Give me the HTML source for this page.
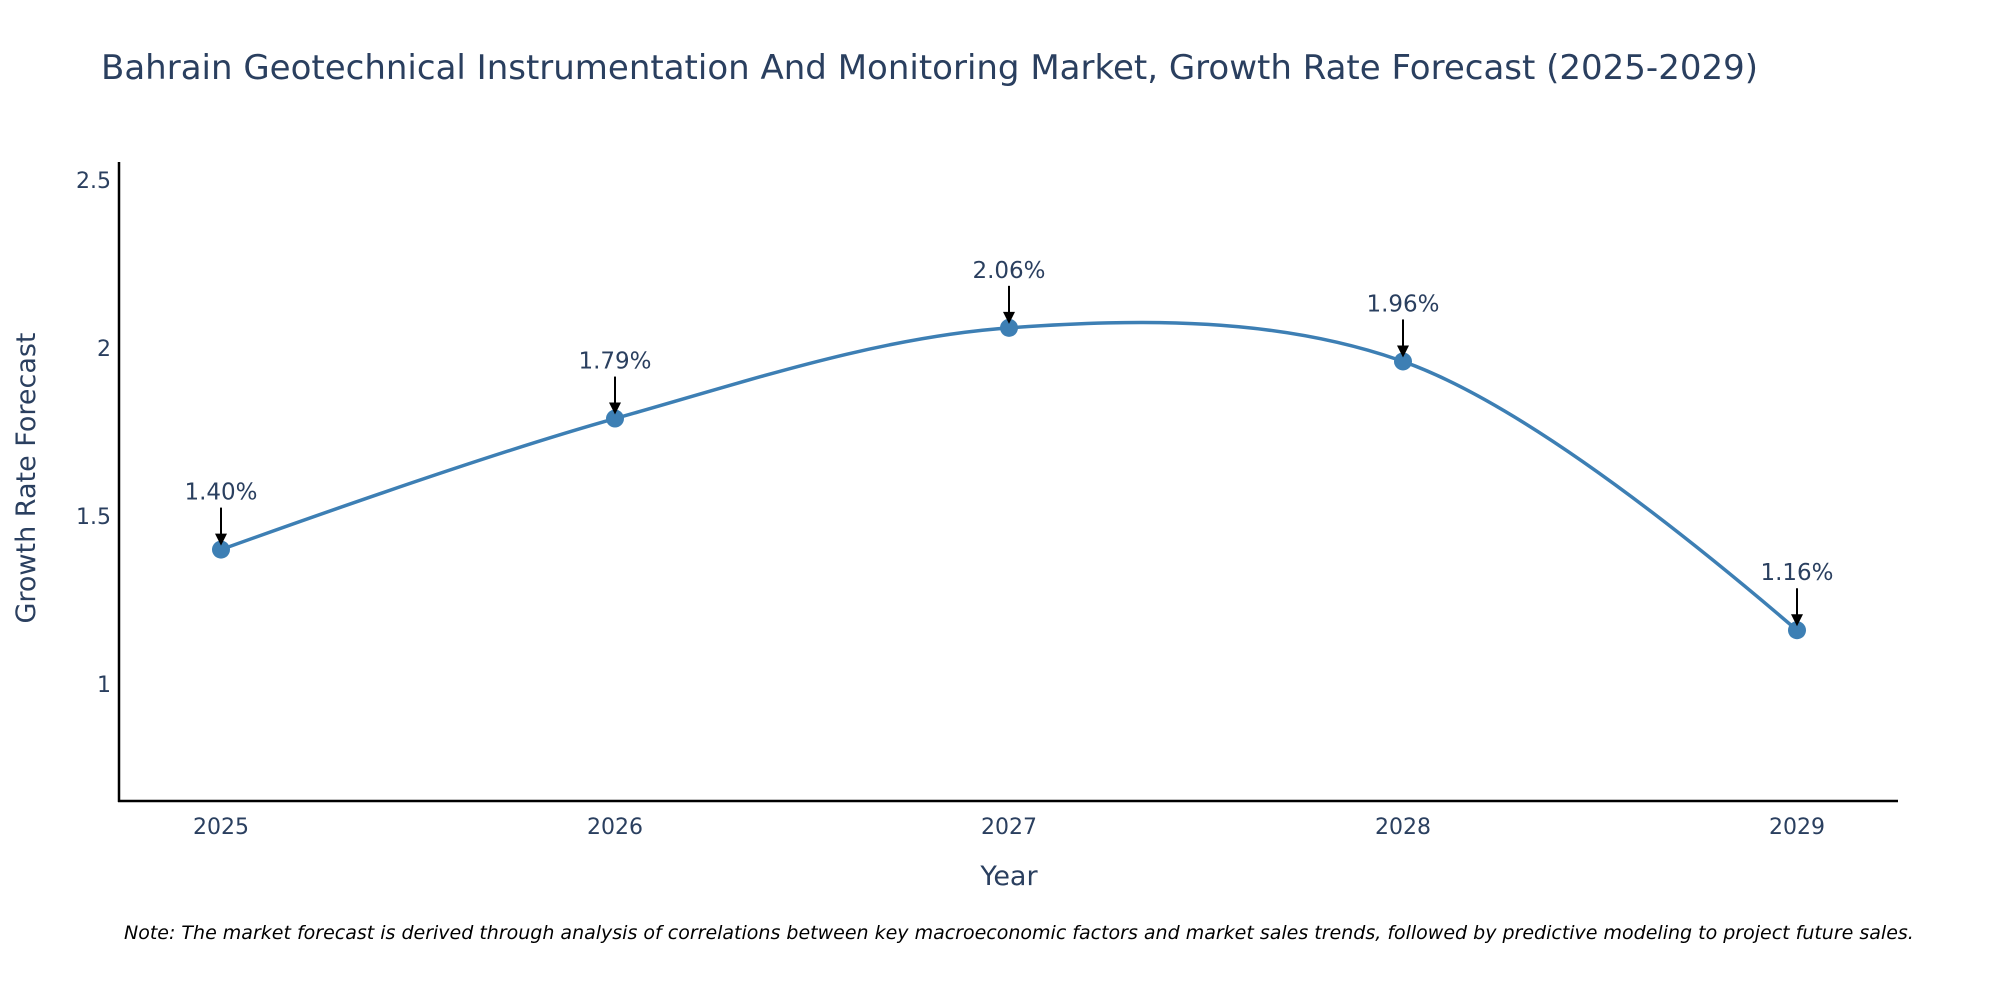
<!DOCTYPE html>
<html><head><meta charset="utf-8">
<style>
html,body{margin:0;padding:0;background:#fff;}
svg{display:block;font-family:"DejaVu Sans","Liberation Sans",sans-serif;}
</style></head>
<body>
<svg id="chart" width="2000" height="1000" viewBox="0 0 2000 1000">
<text x="101" y="79" font-size="34" fill="#2a3f5f">Bahrain Geotechnical Instrumentation And Monitoring Market, Growth Rate Forecast (2025-2029)</text>
<g id="yticks"></g>
<g id="xticks"></g>
<line x1="119" y1="162" x2="119" y2="802" stroke="#000" stroke-width="2.5"/>
<line x1="118" y1="801" x2="1898" y2="801" stroke="#000" stroke-width="2.5"/>
<path id="line" fill="none" stroke="#3d7fb4" stroke-width="3.5"/>
<g id="points"></g>
<g id="labels"></g>
<text x="1009" y="885" font-size="27" fill="#2a3f5f" text-anchor="middle">Year</text>
<text transform="translate(35,478) rotate(-90)" font-size="27" fill="#2a3f5f" text-anchor="middle">Growth Rate Forecast</text>
<text x="124" y="939" font-size="19" font-style="italic" fill="#000">Note: The market forecast is derived through analysis of correlations between key macroeconomic factors and market sales trends, followed by predictive modeling to project future sales.</text>
</svg>
<script>
const years = [2025, 2026, 2027, 2028, 2029];
const rates = [1.40, 1.79, 2.06, 1.96, 1.16];
const valueLabels = ["1.40%", "1.79%", "2.06%", "1.96%", "1.16%"];
const yTickValues = [1, 1.5, 2, 2.5];
const yTickLabels = ["1", "1.5", "2", "2.5"];

const NS = "http://www.w3.org/2000/svg";
function xScale(v){ return 221 + (v - years[0]) * (1797 - 221) / (years[years.length-1] - years[0]); }
function yScale(v){ return 684 - (v - 1) * 336; }
function mk(tag, attrs, parent){ const e = document.createElementNS(NS, tag); for (const k in attrs) e.setAttribute(k, attrs[k]); parent.appendChild(e); return e; }

const yt = document.getElementById('yticks');
yTickValues.forEach((v,i)=>{
  const t = mk('text',{x:111,y:yScale(v)+8,'font-size':22,fill:'#2a3f5f','text-anchor':'end'},yt);
  
  
  t.textContent = yTickLabels[i];
});
const xt = document.getElementById('xticks');
years.forEach(y=>{
  const t = mk('text',{x:xScale(y),y:834,'font-size':22,fill:'#2a3f5f','text-anchor':'middle'},xt);
  
  
  t.textContent = String(y);
});

const pts = years.map((y,i)=>[xScale(y), yScale(rates[i])]);
function tangent(p0,p1,p2,s){
  const d1x=p0[0]-p1[0], d1y=p0[1]-p1[1], d2x=p2[0]-p1[0], d2y=p2[1]-p1[1];
  const d1a=Math.pow(d1x*d1x+d1y*d1y,0.25), d2a=Math.pow(d2x*d2x+d2y*d2y,0.25);
  const nx=(d2a*d2a*d1x-d1a*d1a*d2x)*s, ny=(d2a*d2a*d1y-d1a*d1a*d2y)*s;
  const den1=3*d2a*(d1a+d2a), den2=3*d1a*(d1a+d2a);
  return [[p1[0]+nx/den1,p1[1]+ny/den1],[p1[0]-nx/den2,p1[1]-ny/den2]];
}
const tg=[];
for(let i=1;i<pts.length-1;i++) tg.push(tangent(pts[i-1],pts[i],pts[i+1],1));
let d = `M${pts[0]} Q${tg[0][0]} ${pts[1]}`;
for(let i=1;i<tg.length;i++) d += ` C${tg[i-1][1]} ${tg[i][0]} ${pts[i+1]}`;
d += ` Q${tg[tg.length-1][1]} ${pts[pts.length-1]}`;
document.getElementById('line').setAttribute('d', d);

const pg = document.getElementById('points');
const lg = document.getElementById('labels');
pts.forEach((p,i)=>{
  const c = mk('circle',{cx:p[0],cy:p[1],r:9,fill:'#3d7fb4'},pg);
  
  
  const l = mk('line',{x1:p[0],y1:p[1]-42,x2:p[0],y2:p[1]-14,stroke:'#000','stroke-width':2},lg);
  
  
  const h = mk('polygon',{points:`${p[0]-6},${p[1]-16} ${p[0]+6},${p[1]-16} ${p[0]},${p[1]-4}`,fill:'#000'},lg);
  
  
  const t = mk('text',{x:p[0],y:p[1]-50,'font-size':23,fill:'#2a3f5f','text-anchor':'middle'},lg);
  
  
  t.textContent = valueLabels[i];
});
</script>
</body></html>
